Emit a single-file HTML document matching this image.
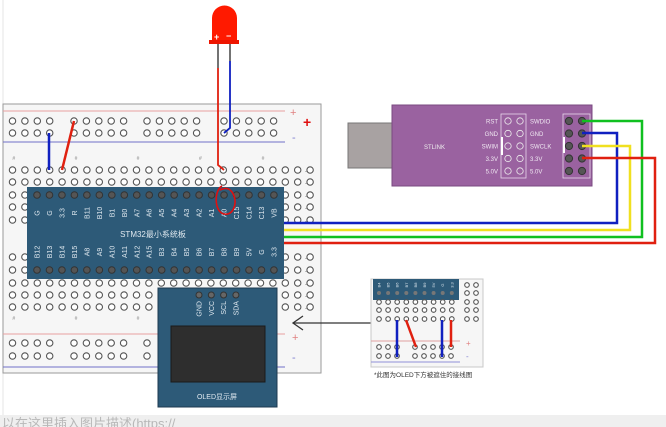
<!DOCTYPE html>
<html><head><meta charset="utf-8"><style>
html,body{margin:0;padding:0;background:#fff;width:666px;height:427px;overflow:hidden}
svg{display:block;font-family:"Liberation Sans","Noto Sans CJK SC",sans-serif}
</style></head><body>
<svg id="s" width="666" height="427" viewBox="0 0 666 427" xmlns="http://www.w3.org/2000/svg">
<rect x="0" y="0" width="666" height="427" fill="#fff"/>
<line x1="3" y1="0" x2="3" y2="427" stroke="#e4e4e4" stroke-width="1"/>
<rect x="3" y="104" width="318" height="269" fill="#f6f6f6" stroke="#9a9a9a" stroke-width="1"/>
<line x1="3" y1="111" x2="285" y2="111" stroke="#e8a0a0" stroke-width="1"/>
<line x1="3" y1="142" x2="285" y2="142" stroke="#7070c8" stroke-width="1"/>
<line x1="3" y1="334" x2="285" y2="334" stroke="#e8a0a0" stroke-width="1"/>
<line x1="3" y1="367" x2="285" y2="367" stroke="#7070c8" stroke-width="1"/>
<text x="290" y="116" font-size="11" fill="#e08080">+</text>
<text x="303" y="127" font-size="14" fill="#e01010" font-weight="bold">+</text>
<text x="292" y="141" font-size="11" fill="#8080d0">-</text>
<text x="292" y="341" font-size="11" fill="#e08080">+</text>
<text x="292" y="361" font-size="11" fill="#8080d0">-</text>
<g id="holes"></g>
<rect x="27" y="187" width="257" height="92" fill="#2d5a78"/>
<g id="chip"></g>
<text x="153" y="237" font-size="8" fill="#dfe8ef" text-anchor="middle">STM32最小系统板</text>
<rect x="158" y="288" width="119" height="119" fill="#2d5a78" stroke="#1d3a50" stroke-width="1"/>
<rect x="171" y="326" width="94" height="56" fill="#2e2e2e" stroke="#1a1a1a"/>
<g id="oled"></g>
<text x="217" y="399" font-size="7" fill="#dfe8ef" text-anchor="middle">OLED显示屏</text>
<line x1="293" y1="323" x2="372" y2="323" stroke="#333" stroke-width="1.3"/>
<polyline points="303,316 293,323 303,330" fill="none" stroke="#333" stroke-width="1.3"/>
<rect x="371" y="279" width="112" height="88" fill="#f6f6f6" stroke="#c8c8c8"/>
<line x1="371" y1="341" x2="460" y2="341" stroke="#e0a0a0"/>
<line x1="371" y1="362" x2="460" y2="362" stroke="#9090d8"/>
<text x="466" y="346" font-size="8" fill="#e08080">+</text>
<text x="466" y="359" font-size="8" fill="#8080d0">-</text>
<rect x="373" y="279" width="86" height="21" fill="#2d5a78"/>
<g id="inset"></g>
<text x="374" y="377" font-size="6.5" fill="#333">*此图为OLED下方被遮住的接线图</text>
<line x1="397" y1="320" x2="397" y2="357" stroke="#1020c0" stroke-width="2.5"/>
<line x1="406" y1="320" x2="416" y2="347" stroke="#e02010" stroke-width="2.5"/>
<line x1="442" y1="320" x2="442" y2="357" stroke="#1020c0" stroke-width="2.5"/>
<line x1="451" y1="320" x2="451" y2="347" stroke="#e02010" stroke-width="2.5"/>
<line x1="49" y1="133" x2="49" y2="170" stroke="#1020c0" stroke-width="2.5"/>
<line x1="74" y1="121" x2="62" y2="170" stroke="#e02010" stroke-width="2.5"/>
<path d="M212,42 L212,18 A12.5,12.5 0 0 1 237,18 L237,42 Z" fill="#ff1a00"/>
<rect x="209" y="40" width="30" height="4" fill="#ee1500"/>
<text x="214" y="40" font-size="9" fill="#fff" font-weight="bold">+</text>
<text x="226" y="39" font-size="9" fill="#fff" font-weight="bold">−</text>
<line x1="218" y1="44" x2="218" y2="68" stroke="#444" stroke-width="1.5"/>
<line x1="230" y1="44" x2="230" y2="61" stroke="#444" stroke-width="1.5"/>
<polyline points="218,68 218,165 224,170" fill="none" stroke="#e02010" stroke-width="1.8"/>
<polyline points="230,61 230,128 224,133" fill="none" stroke="#1020c0" stroke-width="1.8"/>
<path d="M222,186 C214,190 214,212 224,214 C233,216 237,204 234,196 C231,188 226,187 220,190" fill="none" stroke="#e01010" stroke-width="1.6"/>
<rect x="348" y="123" width="45" height="45" fill="#a8a2a2" stroke="#777"/>
<rect x="392" y="105" width="200" height="81" fill="#9a62a0" stroke="#7a4a80"/>
<text x="424" y="149" font-size="6" fill="#eee">STLINK</text>
<rect x="501" y="114" width="25" height="64" fill="none" stroke="#e8d8ea" stroke-width="0.8"/>
<rect x="563" y="114" width="27" height="64" fill="none" stroke="#e8d8ea" stroke-width="0.8"/>
<rect x="501" y="137" width="2" height="18" fill="#fff"/>
<rect x="563" y="137" width="2" height="16" fill="#fff"/>
<g id="st"></g>
<g fill="none" stroke-width="2.5">
<polyline points="582,121 642,121 642,237 284,237" stroke="#10c020"/>
<polyline points="582,133 617,133 617,223 284,223" stroke="#1020c0"/>
<polyline points="582,146 630,146 630,230 284,230" stroke="#f0e020"/>
<polyline points="582,158 655,158 655,243 284,243" stroke="#e02010"/>
</g>
<rect x="0" y="415" width="666" height="12" fill="#efefef"/>
<text x="2" y="428" font-size="13" fill="#b8b8b8">以在这里插入图片描述(https://</text>
</svg>
<script>
(function(){
var NS="http://www.w3.org/2000/svg";
function el(p,t,a,txt){var e=document.createElementNS(NS,t);for(var k in a)e.setAttribute(k,a[k]);if(txt)e.textContent=txt;document.getElementById(p).appendChild(e);return e;}
function hole(p,x,y,r){el(p,"circle",{cx:x,cy:y,r:r||3.2,fill:"#fff",stroke:"#555","stroke-width":1.1});}
var railX=[];
for(var i=0;i<4;i++)railX.push(12.5+i*12.4);
for(var i=0;i<5;i++)railX.push(74+i*12.4);
for(var i=0;i<5;i++)railX.push(147+i*12.4);
for(var i=0;i<5;i++)railX.push(224+i*12.4);
railX.forEach(function(x){hole("holes",x,121);hole("holes",x,133);});
var bx=[];for(var i=0;i<4;i++)bx.push(12.5+i*12.4);for(var i=0;i<5;i++)bx.push(74+i*12.4);bx.push(147);
bx.forEach(function(x){hole("holes",x,343);hole("holes",x,356);});
[170,182,195,207,220,257,270,283,295,307].forEach(function(y){
 for(var i=0;i<25;i++){hole("holes",12.5+i*12.4,y);}
 el("holes","text",{x:305,y:y+3,"font-size":6,fill:"#666"},"-");
});
[37,224,410,597,785].forEach(function(a){el("holes","text",{x:a/3,y:160,"font-size":5,fill:"#888"},"#")});
[37,224,410].forEach(function(a){el("holes","text",{x:a/3,y:320,"font-size":5,fill:"#888"},"#")});
var topL=["G","G","3.3","R","B11","B10","B1","B0","A7","A6","A5","A4","A3","A2","A1","A0","C15","C14","C13","VB"];
var botL=["B12","B13","B14","B15","A8","A9","A10","A11","A12","A15","B3","B4","B5","B6","B7","B8","B9","5V","G","3.3"];
for(var i=0;i<20;i++){var x=37+i*12.47;
 el("chip","circle",{cx:x,cy:195,r:3.3,fill:"#555",stroke:"#333"});
 el("chip","circle",{cx:x,cy:270,r:3.3,fill:"#555",stroke:"#333"});
 el("chip","text",{x:x+2.5,y:213,"font-size":7,fill:"#dfe8ef",transform:"rotate(-90 "+(x+2.5)+" 213)","text-anchor":"middle"},topL[i]);
 el("chip","text",{x:x+2.5,y:252,"font-size":7,fill:"#dfe8ef",transform:"rotate(-90 "+(x+2.5)+" 252)","text-anchor":"middle"},botL[i]);
}
["GND","VCC","SCL","SDA"].forEach(function(t,i){var x=199+i*12.3;
 el("oled","circle",{cx:x,cy:295,r:3,fill:"#666",stroke:"#333"});
 el("oled","text",{x:x+2.5,y:301,"font-size":7,fill:"#dfe8ef",transform:"rotate(-90 "+(x+2.5)+" 301)","text-anchor":"end"},t);});
var il=["B4","B5","B6","B7","B8","B9","5V","G","3.3"];
for(var i=0;i<9;i++){var x=379+i*9.1;
 el("inset","text",{x:x+1.5,y:285,"font-size":4,fill:"#dfe8ef",transform:"rotate(-90 "+(x+1.5)+" 285)","text-anchor":"middle"},il[i]);
 el("inset","circle",{cx:x,cy:293,r:2,fill:"#777"});
 [302,310,319].forEach(function(y){hole("inset",x,y,2.3)});
}
[467,476].forEach(function(x){[285,293,302,310,319].forEach(function(y){hole("inset",x,y,2.3)})});
[379,388,397,415,424,433,442,451].forEach(function(x){hole("inset",x,347,2.3);hole("inset",x,356,2.3);});
var L=["RST","GND","SWIM","3.3V","5.0V"],R=["SWDIO","GND","SWCLK","3.3V","5.0V"];
for(var i=0;i<5;i++){var y=121+i*12.5;
 el("st","text",{x:498,y:y+2.5,"font-size":6,fill:"#f0e8f2","text-anchor":"end"},L[i]);
 el("st","text",{x:530,y:y+2.5,"font-size":6,fill:"#f0e8f2"},R[i]);
 el("st","circle",{cx:508,cy:y,r:3.2,fill:"none",stroke:"#eee","stroke-width":0.8});
 el("st","circle",{cx:520,cy:y,r:3.2,fill:"none",stroke:"#eee","stroke-width":0.8});
 el("st","circle",{cx:569,cy:y,r:3.6,fill:"#555",stroke:"#333"});
 el("st","circle",{cx:582,cy:y,r:3.6,fill:"#555",stroke:"#333"});
}
})();
</script>
</body></html>
